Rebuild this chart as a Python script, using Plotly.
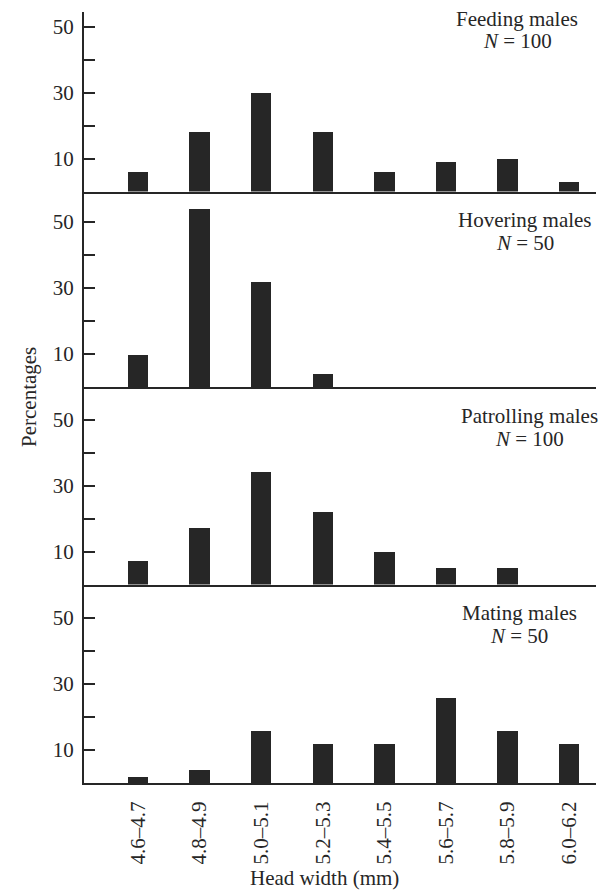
import plotly.graph_objects as go
from plotly.subplots import make_subplots

# Head-width classes (mm)
head_width = ["4.6–4.7", "4.8–4.9", "5.0–5.1", "5.2–5.3",
              "5.4–5.5", "5.6–5.7", "5.8–5.9", "6.0–6.2"]

# Percentage of males in each class, by activity
feeding = [6, 18, 30, 18, 6, 9, 10, 3]
hovering = [10, 54, 32, 4, 0, 0, 0, 0]
patrolling = [7, 17, 34, 22, 10, 5, 5, 0]
mating = [2, 4, 16, 12, 12, 26, 16, 12]

panel_names = ["Feeding males", "Hovering males", "Patrolling males", "Mating males"]
panel_n = [100, 50, 100, 50]
panel_values = [feeding, hovering, patrolling, mating]

y_tickvals = [10, 20, 30, 40, 50]
y_ticktext = ["10", "", "30", "", "50"]

# ---- layout geometry (pixels) ----
W, H = 607, 893
LEFT, RIGHT, TOP, BOTTOM = 84, 596, 12, 783
PX_PER_UNIT = 3.3
panel_px = [179.5, 195.5, 197.5, 198.5]
x_range = [-0.877, 7.435]

INK = "#262626"
SERIF = "Liberation Serif, Times New Roman, serif"

fig = make_subplots(rows=4, cols=1, shared_xaxes=True,
                    vertical_spacing=0, row_heights=panel_px)

positions = list(range(len(head_width)))
for i, vals in enumerate(panel_values):
    fig.add_trace(go.Bar(x=positions, y=vals, width=0.33,
                         marker=dict(color=INK, line=dict(width=0)),
                         showlegend=False, hoverinfo="skip"),
                  row=i + 1, col=1)
    fig.update_yaxes(range=[0, panel_px[i] / PX_PER_UNIT],
                     tickvals=y_tickvals, ticktext=y_ticktext,
                     ticks="inside", ticklen=11, tickwidth=2, tickcolor=INK,
                     showline=True, linecolor=INK, linewidth=2,
                     showgrid=False, zeroline=False,
                     tickfont=dict(family=SERIF, size=21, color=INK),
                     ticklabelstandoff=4,
                     row=i + 1, col=1)
    fig.update_xaxes(range=x_range, showline=True, linecolor=INK, linewidth=2,
                     showgrid=False, zeroline=False, ticks="",
                     tickvals=positions, ticktext=head_width,
                     showticklabels=(i == 3),
                     row=i + 1, col=1)

fig.update_xaxes(tickangle=-90, ticklabelstandoff=8,
                 tickfont=dict(family=SERIF, size=21, color=INK),
                 row=4, col=1)


def px_x(px):
    return (px - LEFT) / (RIGHT - LEFT)


def px_y(px):
    return (BOTTOM - px) / (BOTTOM - TOP)


annotations = []
title_pos = [(517, 19, 41), (525, 220, 243), (529, 416, 439), (519, 613, 636)]
for (cx, y1, y2), name, n in zip(title_pos, panel_names, panel_n):
    annotations.append(dict(text=name, x=px_x(cx), y=px_y(y1),
                            xref="paper", yref="paper", xanchor="center",
                            yanchor="middle", showarrow=False,
                            font=dict(family=SERIF, size=21, color=INK)))
    annotations.append(dict(text=f"<i>N</i> = {n}", x=px_x(cx), y=px_y(y2),
                            xref="paper", yref="paper", xanchor="center",
                            yanchor="middle", showarrow=False,
                            font=dict(family=SERIF, size=21, color=INK)))

annotations.append(dict(text="Percentages", x=px_x(29), y=px_y(397),
                        xref="paper", yref="paper", xanchor="center",
                        yanchor="middle", textangle=-90, showarrow=False,
                        font=dict(family=SERIF, size=21, color=INK)))
annotations.append(dict(text="Head width (mm)", x=px_x(324), y=px_y(878),
                        xref="paper", yref="paper", xanchor="center",
                        yanchor="middle", showarrow=False,
                        font=dict(family=SERIF, size=21, color=INK)))

fig.update_layout(width=W, height=H,
                  margin=dict(l=LEFT, r=W - RIGHT, t=TOP, b=H - BOTTOM, pad=0),
                  paper_bgcolor="white", plot_bgcolor="white",
                  bargap=0, annotations=annotations)

fig.write_html("out.html")
